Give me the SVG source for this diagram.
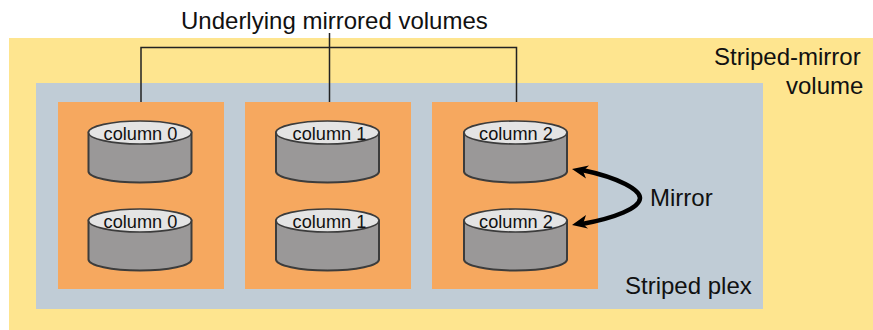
<svg xmlns="http://www.w3.org/2000/svg" xmlns:xlink="http://www.w3.org/1999/xlink" width="873" height="330" viewBox="0 0 873 330">
<style>
text{font-family:"Liberation Sans",Arial,sans-serif;fill:#111}
.big{font-size:24px}
.col{font-size:18.2px;text-anchor:middle}
.panel{fill:#f6a85f}
.body{fill:#9a9898;stroke:#3c3c3c;stroke-width:2}
.top{fill:#e4e4e4;stroke:#3c3c3c;stroke-width:1.6}
.conn{fill:none;stroke:#222;stroke-width:1.5}
.arc{fill:none;stroke:#000;stroke-width:4.500}
.head{fill:#000}
</style>
<defs>
<g id="cyl">
<path class="body" d="M0 0V39C0 45 23 50 51.500 50S103 45 103 39V0Z"/>
<ellipse class="top" cx="51.500" cy="0" rx="51.500" ry="11.500"/>
</g>
</defs>
<rect id="volume" x="9" y="38" width="864" height="292" fill="#fee58f"/>
<rect id="plex" x="36" y="83" width="727" height="226" fill="#c0ccd6"/>
<g id="column-a"><rect class="panel" x="58" y="102" width="166" height="187"/></g>
<g id="column-b"><rect class="panel" x="245" y="102" width="166" height="187"/></g>
<g id="column-c"><rect class="panel" x="432" y="102" width="166" height="187"/></g>
<g id="connectors">
<path class="conn" d="M141 102V47.500H516.500V102M329.500 33V102"/>
<path class="arc" d="M582 170C620 178 640 190 640 198C640 208 615 218 582 224"/>
<path class="head" d="M572 169L589 165.500L583 171L586 178.500Z"/>
<path class="head" d="M572 225L586 215L583 224L588 228.500Z"/>
</g>
<g id="disk-a1"><use xlink:href="#cyl" x="88.500" y="132.500"/><text class="col" x="140.500" y="140">column 0</text></g>
<g id="disk-a2"><use xlink:href="#cyl" x="88.500" y="220.500"/><text class="col" x="140.500" y="228">column 0</text></g>
<g id="disk-b1"><use xlink:href="#cyl" x="276" y="132.500"/><text class="col" x="329.500" y="140">column 1</text></g>
<g id="disk-b2"><use xlink:href="#cyl" x="276" y="220.500"/><text class="col" x="329.500" y="228">column 1</text></g>
<g id="disk-c1"><use xlink:href="#cyl" x="464" y="132.500"/><text class="col" x="516" y="140">column 2</text></g>
<g id="disk-c2"><use xlink:href="#cyl" x="464" y="220.500"/><text class="col" x="516" y="228">column 2</text></g>
<g id="labels">
<text class="big" x="181" y="29">Underlying mirrored volumes</text>
<text class="big" x="714" y="65">Striped-mirror</text>
<text class="big" x="786" y="94">volume</text>
<text class="big" x="650" y="206">Mirror</text>
<text class="big" x="625" y="294">Striped plex</text>
</g>
</svg>
